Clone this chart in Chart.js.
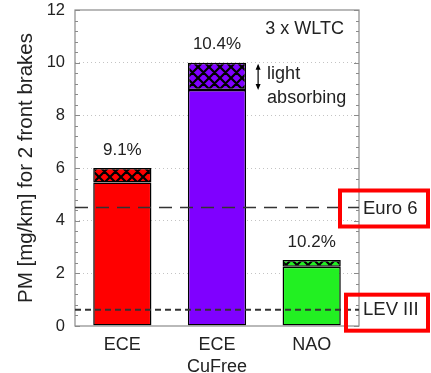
<!DOCTYPE html>
<html>
<head>
<meta charset="utf-8">
<script src="https://cdn.jsdelivr.net/npm/chart.js@4.4.1/dist/chart.umd.min.js"></script>
<style>
  html, body { margin: 0; padding: 0; background: #fff; }
  #wrap { position: relative; width: 431px; height: 373px; overflow: hidden; }
  #myChart { position: absolute; left: 0; top: -10px; }
</style>
</head>
<body>
<div id="wrap"><canvas id="myChart" width="431" height="383"></canvas></div>
<script>
// values (mg/km)
var categories = ['ECE', ['ECE', 'CuFree'], 'NAO'];
var baseValues = [5.45, 8.96, 2.25];
var absorbingValues = [0.55, 1.04, 0.26];
var percentLabels = ['9.1%', '10.4%', '10.2%'];
var barColors = ['#ff0000', '#7f00ff', '#22f022'];
var limitValues = [4.5, 0.62];
var limitNames = ['Euro 6', 'LEV III'];

var FONT = "'Liberation Sans', Arial, sans-serif";
var INK = '#222';

function hatch(color) {
    var s = 11;
    var c = document.createElement('canvas');
    c.width = s; c.height = s;
    var g = c.getContext('2d');
    g.fillStyle = color;
    g.fillRect(0, 0, s, s);
    g.strokeStyle = '#000';
    g.lineWidth = 2.2;
    g.beginPath();
    for (var k = -1; k <= 1; k++) {
        g.moveTo(k * s, 0); g.lineTo(k * s + s, s);
        g.moveTo(k * s + s, 0); g.lineTo(k * s, s);
    }
    g.stroke();
    return g.createPattern(c, 'repeat');
}

var extras = {
    id: 'extras',
    afterDatasetsDraw: function(chart) {
        var ctx = chart.ctx;
        var a = chart.chartArea;
        var y = chart.scales.y;
        ctx.save();

        // frame
        ctx.strokeStyle = '#8a8a8a';
        ctx.lineWidth = 1.2;
        ctx.strokeRect(a.left, a.top, a.right - a.left, a.bottom - a.top);

        // inward ticks every 0.4
        ctx.beginPath();
        for (var i = 0; i <= 30; i++) {
            var py = Math.round(y.getPixelForValue(i * 0.4)) + 0.5;
            var len = (i % 5 === 0) ? 5 : 3;
            ctx.moveTo(a.left, py); ctx.lineTo(a.left + len, py);
            ctx.moveTo(a.right, py); ctx.lineTo(a.right - len, py);
        }
        ctx.stroke();

        // limit lines
        var dashes = [[13, 8], [6, 4]];
        var widths = [1.5, 2];
        limitValues.forEach(function(v, k) {
            var py = y.getPixelForValue(v);
            ctx.save();
            ctx.strokeStyle = '#333';
            ctx.lineWidth = widths[k];
            ctx.setLineDash(dashes[k]);
            ctx.beginPath();
            ctx.moveTo(a.left, py); ctx.lineTo(a.right, py);
            ctx.stroke();
            ctx.restore();

            ctx.fillStyle = INK;
            ctx.font = '18.5px ' + FONT;
            ctx.textAlign = 'left';
            ctx.textBaseline = 'middle';
            ctx.fillText(limitNames[k], a.right + 4, py + (k === 0 ? 1 : 0));

            ctx.strokeStyle = '#ff0000';
            ctx.lineWidth = 4;
            var bx = a.right - (k === 0 ? 19 : 13);
            var by = py + (k === 0 ? 1 : 3);
            ctx.strokeRect(bx, by - 18, chart.width - 3 - bx, 36);
        });

        // percent labels
        var meta = chart.getDatasetMeta(1);
        ctx.fillStyle = INK;
        ctx.font = '17px ' + FONT;
        ctx.textAlign = 'center';
        ctx.textBaseline = 'middle';
        meta.data.forEach(function(bar, k) {
            ctx.fillText(percentLabels[k], bar.x, bar.y - 18);
        });

        // light absorbing note
        var b = meta.data[1];
        var ax = b.x + b.width / 2 + 12;
        var top = b.y + 1, bot = b.base;
        ctx.strokeStyle = '#000';
        ctx.lineWidth = 1.2;
        ctx.beginPath();
        ctx.moveTo(ax, top + 2); ctx.lineTo(ax, bot - 2);
        ctx.stroke();
        ctx.beginPath();
        ctx.moveTo(ax, top); ctx.lineTo(ax - 2.5, top + 6); ctx.lineTo(ax + 2.5, top + 6); ctx.closePath();
        ctx.moveTo(ax, bot); ctx.lineTo(ax - 2.5, bot - 6); ctx.lineTo(ax + 2.5, bot - 6); ctx.closePath();
        ctx.fillStyle = '#000';
        ctx.fill();
        ctx.fillStyle = INK;
        ctx.font = '18px ' + FONT;
        ctx.textAlign = 'left';
        ctx.fillText('light', ax + 9, top + 10);
        ctx.fillText('absorbing', ax + 9, top + 34);

        // cycle note
        ctx.textAlign = 'right';
        ctx.fillText('3 x WLTC', a.right - 15, a.top + 19);

        ctx.restore();
    }
};

var ctx = document.getElementById('myChart').getContext('2d');
var myChart = new Chart(ctx, {
    type: 'bar',
    data: {
        labels: categories,
        datasets: [{
            label: 'PM',
            data: baseValues,
            backgroundColor: barColors,
            borderColor: '#000',
            borderWidth: 1.5,
            borderSkipped: false
        }, {
            label: 'light absorbing',
            data: absorbingValues,
            backgroundColor: barColors.map(hatch),
            borderColor: '#000',
            borderWidth: 1.5,
            borderSkipped: false
        }]
    },
    options: {
        responsive: false,
        animation: false,
        layout: { padding: { left: 0, right: 72, top: 20, bottom: 0 } },
        categoryPercentage: 1,
        barPercentage: 0.615,
        plugins: {
            legend: { display: false },
            tooltip: { enabled: false }
        },
        scales: {
            x: {
                stacked: true,
                grid: { display: false, drawTicks: false },
                border: { display: false },
                ticks: { color: INK, padding: 8, font: { family: FONT, size: 18, lineHeight: 1.22 } },
                afterFit: function(s) { s.height = 47; }
            },
            y: {
                stacked: true,
                min: 0,
                max: 12,
                ticks: { stepSize: 2, color: INK, padding: 10, font: { family: FONT, size: 16.5 } },
                grid: {
                    drawTicks: false,
                    color: function(c) {
                        var v = c.tick.value;
                        return (v === 0 || v === 12) ? 'rgba(0,0,0,0)' : '#c4c4c4';
                    }
                },
                border: { display: false, dash: [1, 3] },
                title: {
                    display: true,
                    text: 'PM [mg/km] for 2 front brakes',
                    color: INK,
                    padding: { top: 14, bottom: 0 },
                    font: { family: FONT, size: 20.5 }
                },
                afterFit: function(s) { s.width = 75; }
            }
        }
    },
    plugins: [extras]
});
</script>
</body>
</html>
